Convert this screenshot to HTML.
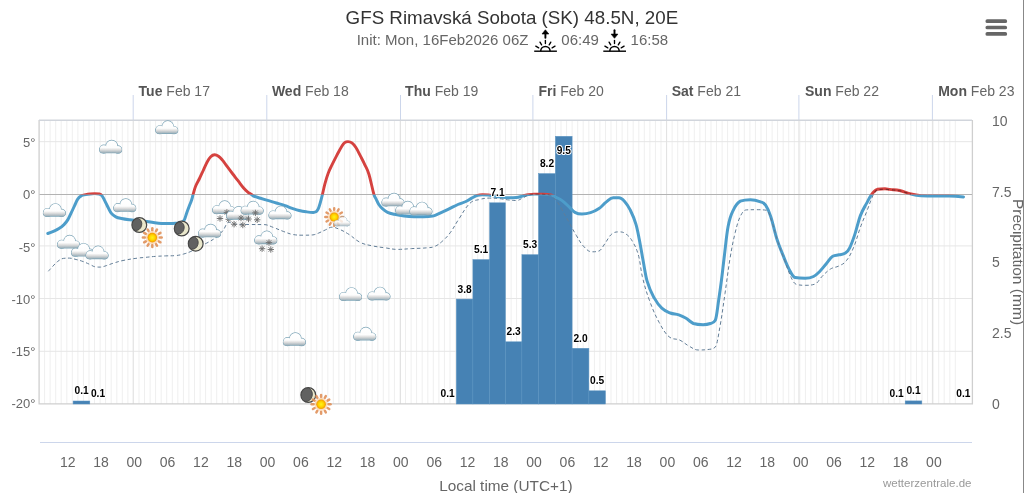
<!DOCTYPE html><html><head><meta charset="utf-8"><style>html,body{margin:0;padding:0;background:#fff;overflow:hidden}svg{display:block;will-change:transform}text{font-family:"Liberation Sans",sans-serif}</style></head><body>
<svg width="1024" height="493" viewBox="0 0 1024 493">
<defs>
<linearGradient id="cg" x1="0" y1="0" x2="0" y2="12.6" gradientUnits="userSpaceOnUse">
<stop offset="0" stop-color="#fff"/><stop offset="0.6" stop-color="#fdfdfd"/><stop offset="0.78" stop-color="#dcdcdc"/><stop offset="1" stop-color="#9fb1ba"/></linearGradient>
<radialGradient id="sg" cx="0.5" cy="0.5" r="0.5"><stop offset="0" stop-color="#fff41a"/><stop offset="0.55" stop-color="#ffd400"/><stop offset="1" stop-color="#f39800"/></radialGradient>
<g id="cloud">
 <g fill="none" stroke="#7fa6b8" stroke-width="1.3">
  <circle cx="4.7" cy="9.0" r="3.9"/><circle cx="12.6" cy="5.9" r="5.6"/><circle cx="18.8" cy="9.4" r="3.5"/><rect x="0.7" y="7" width="21.7" height="5.6" rx="3.1"/>
 </g>
 <g fill="url(#cg)">
  <circle cx="4.7" cy="9.0" r="3.9"/><circle cx="12.6" cy="5.9" r="5.6"/><circle cx="18.8" cy="9.4" r="3.5"/><rect x="0.7" y="7" width="21.7" height="5.6" rx="3.1"/>
 </g>
</g>
<g id="flake" stroke="#707070" stroke-width="0.95" stroke-linecap="round">
 <line x1="-2.8" y1="0" x2="2.8" y2="0"/><line x1="0" y1="-2.8" x2="0" y2="2.8"/><line x1="-2" y1="-2" x2="2" y2="2"/><line x1="-2" y1="2" x2="2" y2="-2"/>
</g>
<clipPath id="mc"><circle cx="0" cy="0" r="7.4"/></clipPath>
<g id="moon">
 <circle cx="0" cy="0" r="7.4" fill="#e9e7cb" stroke="#464646" stroke-width="1.2"/>
 <g clip-path="url(#mc)"><ellipse cx="-2.4" cy="-0.5" rx="4.8" ry="6.1" fill="#616161" stroke="#434343" stroke-width="0.8" transform="rotate(15 -2.4 -0.5)"/></g>
</g>
<g id="moon2">
 <circle cx="0" cy="0" r="7.4" fill="#e9e7cb" stroke="#464646" stroke-width="1.2"/>
 <g clip-path="url(#mc)"><ellipse cx="-1.6" cy="-0.3" rx="5.6" ry="6.9" fill="#616161" stroke="#434343" stroke-width="0.8" transform="rotate(12 -1.6 -0.3)"/></g>
</g>
<g id="sun">
 <g stroke="#e0915a" stroke-width="2.5" stroke-linecap="round" opacity="0.9"><line x1="7.40" y1="0.00" x2="9.40" y2="0.00"/><line x1="6.41" y1="3.70" x2="8.14" y2="4.70"/><line x1="3.70" y1="6.41" x2="4.70" y2="8.14"/><line x1="0.00" y1="7.40" x2="0.00" y2="9.40"/><line x1="-3.70" y1="6.41" x2="-4.70" y2="8.14"/><line x1="-6.41" y1="3.70" x2="-8.14" y2="4.70"/><line x1="-7.40" y1="0.00" x2="-9.40" y2="0.00"/><line x1="-6.41" y1="-3.70" x2="-8.14" y2="-4.70"/><line x1="-3.70" y1="-6.41" x2="-4.70" y2="-8.14"/><line x1="-0.00" y1="-7.40" x2="-0.00" y2="-9.40"/><line x1="3.70" y1="-6.41" x2="4.70" y2="-8.14"/><line x1="6.41" y1="-3.70" x2="8.14" y2="-4.70"/></g>
 <circle cx="0" cy="0" r="6.5" fill="#fbd0a4" opacity="0.75"/><circle cx="0" cy="0" r="4.8" fill="url(#sg)"/>
</g>
<clipPath id="plotclip"><rect x="39" y="120" width="933" height="284"/></clipPath>
<clipPath id="redclip"><rect x="0" y="0" width="1024" height="194.5"/></clipPath><clipPath id="blueclip"><rect x="0" y="194.5" width="1024" height="300"/></clipPath>
</defs>
<path d="M44.6,120 V404 M50.1,120 V404 M55.7,120 V404 M61.2,120 V404 M66.8,120 V404 M72.3,120 V404 M77.9,120 V404 M83.4,120 V404 M89.0,120 V404 M94.5,120 V404 M100.1,120 V404 M105.6,120 V404 M111.2,120 V404 M116.8,120 V404 M122.3,120 V404 M127.9,120 V404 M133.4,120 V404 M139.0,120 V404 M144.5,120 V404 M150.1,120 V404 M155.6,120 V404 M161.2,120 V404 M166.7,120 V404 M172.3,120 V404 M177.8,120 V404 M183.4,120 V404 M188.9,120 V404 M194.5,120 V404 M200.1,120 V404 M205.6,120 V404 M211.2,120 V404 M216.7,120 V404 M222.3,120 V404 M227.8,120 V404 M233.4,120 V404 M238.9,120 V404 M244.5,120 V404 M250.0,120 V404 M255.6,120 V404 M261.1,120 V404 M266.7,120 V404 M272.2,120 V404 M277.8,120 V404 M283.4,120 V404 M288.9,120 V404 M294.5,120 V404 M300.0,120 V404 M305.6,120 V404 M311.1,120 V404 M316.7,120 V404 M322.2,120 V404 M327.8,120 V404 M333.3,120 V404 M338.9,120 V404 M344.4,120 V404 M350.0,120 V404 M355.6,120 V404 M361.1,120 V404 M366.7,120 V404 M372.2,120 V404 M377.8,120 V404 M383.3,120 V404 M388.9,120 V404 M394.4,120 V404 M400.0,120 V404 M405.5,120 V404 M411.1,120 V404 M416.6,120 V404 M422.2,120 V404 M427.8,120 V404 M433.3,120 V404 M438.9,120 V404 M444.4,120 V404 M450.0,120 V404 M455.5,120 V404 M461.1,120 V404 M466.6,120 V404 M472.2,120 V404 M477.7,120 V404 M483.3,120 V404 M488.8,120 V404 M494.4,120 V404 M499.9,120 V404 M505.5,120 V404 M511.1,120 V404 M516.6,120 V404 M522.2,120 V404 M527.7,120 V404 M533.3,120 V404 M538.8,120 V404 M544.4,120 V404 M549.9,120 V404 M555.5,120 V404 M561.0,120 V404 M566.6,120 V404 M572.1,120 V404 M577.7,120 V404 M583.2,120 V404 M588.8,120 V404 M594.4,120 V404 M599.9,120 V404 M605.5,120 V404 M611.0,120 V404 M616.6,120 V404 M622.1,120 V404 M627.7,120 V404 M633.2,120 V404 M638.8,120 V404 M644.3,120 V404 M649.9,120 V404 M655.4,120 V404 M661.0,120 V404 M666.6,120 V404 M672.1,120 V404 M677.7,120 V404 M683.2,120 V404 M688.8,120 V404 M694.3,120 V404 M699.9,120 V404 M705.4,120 V404 M711.0,120 V404 M716.5,120 V404 M722.1,120 V404 M727.6,120 V404 M733.2,120 V404 M738.8,120 V404 M744.3,120 V404 M749.9,120 V404 M755.4,120 V404 M761.0,120 V404 M766.5,120 V404 M772.1,120 V404 M777.6,120 V404 M783.2,120 V404 M788.7,120 V404 M794.3,120 V404 M799.8,120 V404 M805.4,120 V404 M810.9,120 V404 M816.5,120 V404 M822.1,120 V404 M827.6,120 V404 M833.2,120 V404 M838.7,120 V404 M844.3,120 V404 M849.8,120 V404 M855.4,120 V404 M860.9,120 V404 M866.5,120 V404 M872.0,120 V404 M877.6,120 V404 M883.1,120 V404 M888.7,120 V404 M894.2,120 V404 M899.8,120 V404 M905.4,120 V404 M910.9,120 V404 M916.5,120 V404 M922.0,120 V404 M927.6,120 V404 M933.1,120 V404 M938.7,120 V404 M944.2,120 V404 M949.8,120 V404 M955.3,120 V404" stroke="#efefef" stroke-width="1" fill="none"/>
<path d="M39,141.7 H972 M39,245.9 H972 M39,298.5 H972 M39,351.3 H972" stroke="#e6e6e6" stroke-width="1" fill="none"/>
<path d="M133.2,95 V120 M266.8,95 V120 M400.5,95 V120 M532.9,95 V120 M666.6,95 V120 M798.9,95 V120 M932.4,95 V120" stroke="#ccd6eb" stroke-width="1" fill="none"/>
<path d="M133.2,120 V404 M266.8,120 V404 M400.5,120 V404 M532.9,120 V404 M666.6,120 V404 M798.9,120 V404 M932.4,120 V404" stroke="#e2e2e2" stroke-width="1" fill="none"/>
<path d="M39.1,120 V403.9 H972.4 V120" stroke="#cfcfcf" stroke-width="1.3" fill="none"/>
<path d="M39,120.3 H972" stroke="#d1d5dc" stroke-width="1.4" fill="none"/>
<path d="M39.5,194.5 H972" stroke="#b3b3b3" stroke-width="1" fill="none"/>
<g fill="#4682b4" stroke="#5a93c2" stroke-width="0.5"><rect x="73.1" y="401.0" width="16.7" height="3.0"/><rect x="456.3" y="299.1" width="16.6" height="104.9"/><rect x="472.9" y="259.6" width="16.7" height="144.4"/><rect x="489.6" y="202.8" width="15.8" height="201.2"/><rect x="505.4" y="341.8" width="16.5" height="62.2"/><rect x="521.9" y="254.7" width="16.6" height="149.3"/><rect x="538.5" y="173.6" width="16.9" height="230.4"/><rect x="555.4" y="136.3" width="16.7" height="267.7"/><rect x="572.1" y="348.3" width="16.8" height="55.7"/><rect x="588.9" y="390.8" width="16.5" height="13.2"/><rect x="905.2" y="400.9" width="16.6" height="3.1"/></g>
<path d="M47.80,233.50 C47.80,233.50 51.16,232.30 53.40,231.30 C55.64,230.30 56.76,229.92 59.00,228.50 C61.00,227.24 62.00,226.60 64.00,224.60 C65.56,223.04 66.34,222.14 67.90,219.60 C69.22,217.46 69.88,215.66 71.20,212.90 C72.56,210.06 73.24,208.44 74.60,205.60 C75.92,202.84 76.58,200.83 77.90,198.90 C79.26,196.91 79.94,196.55 81.30,195.80 C83.06,194.83 83.94,194.98 85.70,194.60 C87.50,194.22 88.40,194.10 90.20,193.90 C91.96,193.70 92.84,193.60 94.60,193.60 C96.40,193.60 97.30,193.60 99.10,193.90 C100.22,194.20 100.78,194.26 101.90,195.60 C103.02,196.94 103.58,198.45 104.70,200.60 C106.02,203.13 106.68,204.78 108.00,207.30 C109.36,209.90 110.04,211.74 111.40,213.40 C113.16,215.54 114.04,215.90 115.80,216.80 C118.04,217.94 119.16,218.03 121.40,218.50 C124.84,219.23 126.56,219.40 130.00,219.80 C136.76,220.60 140.14,220.69 146.90,221.50 C149.50,221.81 150.80,222.26 153.40,222.60 C156.64,223.02 158.26,223.30 161.50,223.40 C164.74,223.50 166.36,223.50 169.60,223.50 C171.88,223.50 173.02,223.50 175.30,223.30 C177.90,223.10 179.20,223.28 181.80,222.30 C182.80,221.92 183.30,221.80 184.30,219.90 C185.26,218.08 185.74,215.68 186.70,213.00 C187.66,210.32 188.14,209.05 189.10,206.50 C190.10,203.85 190.60,203.02 191.60,200.00 C192.24,198.06 192.56,196.29 193.20,194.10 C194.16,190.81 194.64,188.68 195.60,186.30 C197.16,182.44 197.94,181.74 199.50,178.50 C201.06,175.26 201.84,173.46 203.40,170.10 C204.96,166.74 205.74,164.56 207.30,161.70 C208.66,159.20 209.34,157.99 210.70,156.70 C212.26,155.23 213.04,154.80 214.60,154.80 C216.16,154.80 216.94,155.14 218.50,156.20 C220.06,157.26 220.84,158.24 222.40,160.10 C224.20,162.24 225.10,163.79 226.90,166.20 C229.10,169.15 230.20,170.63 232.40,173.50 C234.64,176.43 235.76,177.80 238.00,180.70 C240.24,183.60 241.36,185.41 243.60,188.00 C245.40,190.09 246.30,190.92 248.10,192.40 C249.42,193.48 250.08,193.52 251.40,194.40 C252.24,194.96 252.66,195.65 253.50,196.00 C256.30,197.17 257.70,197.33 260.50,198.20 C263.34,199.09 264.76,199.54 267.60,200.40 C271.12,201.46 272.88,201.93 276.40,203.00 C279.88,204.05 281.62,204.53 285.10,205.70 C287.94,206.65 289.36,207.33 292.20,208.30 C295.00,209.25 296.40,209.80 299.20,210.50 C302.00,211.20 303.40,211.42 306.20,211.80 C309.04,212.18 310.46,212.40 313.30,212.40 C314.34,212.40 314.86,212.40 315.90,211.80 C316.78,211.20 317.22,211.04 318.10,209.20 C318.98,207.36 319.42,205.58 320.30,202.60 C321.10,199.90 321.50,198.27 322.30,195.00 C323.34,190.75 323.86,187.64 324.90,183.80 C326.22,178.92 326.88,176.70 328.20,173.20 C329.76,169.06 330.54,167.93 332.10,164.70 C333.98,160.81 334.92,159.00 336.80,155.40 C338.64,151.88 339.56,149.88 341.40,146.90 C342.72,144.76 343.38,143.60 344.70,142.60 C346.02,141.60 346.68,141.60 348.00,141.60 C349.56,141.60 350.34,141.73 351.90,142.90 C353.50,144.09 354.30,145.04 355.90,147.50 C357.74,150.32 358.66,152.54 360.50,156.10 C362.34,159.66 363.26,161.32 365.10,165.30 C366.66,168.68 367.44,169.36 369.00,174.50 C370.96,180.96 371.94,187.43 373.90,194.30 C374.70,197.11 375.10,197.03 375.90,198.70 C377.06,201.11 377.64,202.76 378.80,204.50 C380.36,206.84 381.14,207.52 382.70,208.90 C384.66,210.64 385.64,211.40 387.60,212.30 C390.32,213.56 391.68,213.68 394.40,214.30 C398.32,215.20 400.28,215.62 404.20,216.10 C408.08,216.58 410.02,216.70 413.90,216.70 C417.82,216.70 419.78,216.70 423.70,216.70 C427.22,216.70 428.98,216.70 432.50,216.10 C434.86,215.50 436.04,214.81 438.40,213.80 C442.28,212.13 444.22,211.25 448.10,209.40 C452.02,207.53 453.98,206.24 457.90,204.50 C461.10,203.08 462.70,202.98 465.90,201.50 C468.22,200.42 469.38,199.31 471.70,198.10 C474.06,196.87 475.24,196.12 477.60,195.40 C479.56,194.80 480.54,194.80 482.50,194.80 C484.82,194.80 485.98,194.80 488.30,195.00 C490.66,195.20 491.84,195.71 494.20,196.10 C496.92,196.55 498.28,196.78 501.00,197.10 C504.12,197.46 505.68,197.80 508.80,197.80 C511.92,197.80 513.48,197.80 516.60,197.60 C518.96,197.40 520.14,196.70 522.50,196.10 C524.86,195.50 526.04,195.00 528.40,194.60 C530.72,194.20 531.88,194.10 534.20,194.10 C537.72,194.10 539.48,194.10 543.00,194.10 C546.12,194.10 547.68,194.16 550.80,194.90 C552.76,195.36 553.74,196.11 555.70,197.10 C558.26,198.39 559.54,198.72 562.10,200.60 C564.94,202.68 566.36,204.38 569.20,207.00 C571.48,209.10 572.62,211.14 574.90,212.40 C577.74,213.98 579.16,214.10 582.00,214.10 C585.40,214.10 587.10,213.82 590.50,212.70 C593.90,211.58 595.60,210.81 599.00,208.50 C601.84,206.57 603.26,204.24 606.10,202.10 C608.94,199.96 610.36,197.80 613.20,197.80 C615.48,197.80 616.62,197.80 618.90,197.80 C621.18,197.80 622.32,198.96 624.60,201.40 C626.84,203.80 627.96,205.40 630.20,209.90 C632.48,214.48 633.62,216.64 635.90,224.10 C637.30,228.68 638.00,232.92 639.40,240.00 C640.84,247.28 641.56,252.36 643.00,260.00 C644.68,268.92 645.52,275.79 647.20,281.40 C650.12,291.15 651.58,293.06 654.50,298.40 C657.42,303.74 658.88,305.40 661.80,308.10 C665.20,311.24 666.90,311.64 670.30,313.00 C673.70,314.36 675.40,313.76 678.80,314.90 C681.72,315.88 683.18,316.58 686.10,318.30 C689.02,320.02 690.48,322.30 693.40,323.50 C697.28,324.70 699.22,324.70 703.10,324.70 C706.02,324.70 707.48,324.55 710.40,323.50 C712.36,322.79 713.34,323.50 715.30,320.30 C716.74,317.10 717.46,307.76 718.90,298.40 C719.94,291.64 720.46,288.08 721.50,280.00 C722.54,271.92 723.06,266.43 724.10,258.00 C725.70,245.03 726.50,234.89 728.10,226.50 C730.14,215.81 731.16,214.53 733.20,210.30 C736.04,204.41 737.46,202.70 740.30,201.20 C744.34,199.70 746.36,199.70 750.40,199.70 C754.48,199.70 756.52,200.32 760.60,201.80 C762.60,202.52 763.60,202.31 765.60,205.20 C767.64,208.15 768.66,210.30 770.70,216.40 C773.14,223.70 774.36,231.00 776.80,238.70 C779.24,246.40 780.46,248.82 782.90,254.90 C785.34,260.98 786.56,264.56 789.00,269.10 C791.44,273.64 792.66,277.00 795.10,277.60 C799.14,278.20 801.16,278.20 805.20,278.20 C808.52,278.20 810.18,278.08 813.50,276.50 C816.06,275.28 817.34,273.76 819.90,271.20 C822.46,268.64 823.74,266.68 826.30,263.70 C828.86,260.72 830.14,257.80 832.70,256.30 C835.22,254.80 836.48,255.43 839.00,254.80 C841.56,254.15 842.84,254.77 845.40,253.10 C847.12,251.97 847.98,251.24 849.70,247.80 C851.82,243.56 852.88,240.28 855.00,233.90 C857.12,227.52 858.18,221.48 860.30,215.90 C862.86,209.16 864.14,207.91 866.70,203.10 C868.82,199.11 869.88,196.66 872.00,193.90 C874.12,191.14 875.18,189.80 877.30,189.30 C880.38,188.80 881.92,188.80 885.00,188.80 C886.88,188.80 887.82,189.18 889.70,189.40 C893.70,189.86 895.70,189.64 899.70,190.50 C904.22,191.48 906.48,192.90 911.00,194.00 C915.00,194.98 917.00,195.40 921.00,195.70 C926.68,196.00 929.52,196.00 935.20,196.00 C940.84,196.00 943.66,196.00 949.30,196.00 C954.98,196.00 963.50,196.90 963.50,196.90" fill="none" stroke="#4d9dca" stroke-width="3" stroke-linejoin="round" stroke-linecap="round" clip-path="url(#blueclip)"/>
<path d="M47.80,233.50 C47.80,233.50 51.16,232.30 53.40,231.30 C55.64,230.30 56.76,229.92 59.00,228.50 C61.00,227.24 62.00,226.60 64.00,224.60 C65.56,223.04 66.34,222.14 67.90,219.60 C69.22,217.46 69.88,215.66 71.20,212.90 C72.56,210.06 73.24,208.44 74.60,205.60 C75.92,202.84 76.58,200.83 77.90,198.90 C79.26,196.91 79.94,196.55 81.30,195.80 C83.06,194.83 83.94,194.98 85.70,194.60 C87.50,194.22 88.40,194.10 90.20,193.90 C91.96,193.70 92.84,193.60 94.60,193.60 C96.40,193.60 97.30,193.60 99.10,193.90 C100.22,194.20 100.78,194.26 101.90,195.60 C103.02,196.94 103.58,198.45 104.70,200.60 C106.02,203.13 106.68,204.78 108.00,207.30 C109.36,209.90 110.04,211.74 111.40,213.40 C113.16,215.54 114.04,215.90 115.80,216.80 C118.04,217.94 119.16,218.03 121.40,218.50 C124.84,219.23 126.56,219.40 130.00,219.80 C136.76,220.60 140.14,220.69 146.90,221.50 C149.50,221.81 150.80,222.26 153.40,222.60 C156.64,223.02 158.26,223.30 161.50,223.40 C164.74,223.50 166.36,223.50 169.60,223.50 C171.88,223.50 173.02,223.50 175.30,223.30 C177.90,223.10 179.20,223.28 181.80,222.30 C182.80,221.92 183.30,221.80 184.30,219.90 C185.26,218.08 185.74,215.68 186.70,213.00 C187.66,210.32 188.14,209.05 189.10,206.50 C190.10,203.85 190.60,203.02 191.60,200.00 C192.24,198.06 192.56,196.29 193.20,194.10 C194.16,190.81 194.64,188.68 195.60,186.30 C197.16,182.44 197.94,181.74 199.50,178.50 C201.06,175.26 201.84,173.46 203.40,170.10 C204.96,166.74 205.74,164.56 207.30,161.70 C208.66,159.20 209.34,157.99 210.70,156.70 C212.26,155.23 213.04,154.80 214.60,154.80 C216.16,154.80 216.94,155.14 218.50,156.20 C220.06,157.26 220.84,158.24 222.40,160.10 C224.20,162.24 225.10,163.79 226.90,166.20 C229.10,169.15 230.20,170.63 232.40,173.50 C234.64,176.43 235.76,177.80 238.00,180.70 C240.24,183.60 241.36,185.41 243.60,188.00 C245.40,190.09 246.30,190.92 248.10,192.40 C249.42,193.48 250.08,193.52 251.40,194.40 C252.24,194.96 252.66,195.65 253.50,196.00 C256.30,197.17 257.70,197.33 260.50,198.20 C263.34,199.09 264.76,199.54 267.60,200.40 C271.12,201.46 272.88,201.93 276.40,203.00 C279.88,204.05 281.62,204.53 285.10,205.70 C287.94,206.65 289.36,207.33 292.20,208.30 C295.00,209.25 296.40,209.80 299.20,210.50 C302.00,211.20 303.40,211.42 306.20,211.80 C309.04,212.18 310.46,212.40 313.30,212.40 C314.34,212.40 314.86,212.40 315.90,211.80 C316.78,211.20 317.22,211.04 318.10,209.20 C318.98,207.36 319.42,205.58 320.30,202.60 C321.10,199.90 321.50,198.27 322.30,195.00 C323.34,190.75 323.86,187.64 324.90,183.80 C326.22,178.92 326.88,176.70 328.20,173.20 C329.76,169.06 330.54,167.93 332.10,164.70 C333.98,160.81 334.92,159.00 336.80,155.40 C338.64,151.88 339.56,149.88 341.40,146.90 C342.72,144.76 343.38,143.60 344.70,142.60 C346.02,141.60 346.68,141.60 348.00,141.60 C349.56,141.60 350.34,141.73 351.90,142.90 C353.50,144.09 354.30,145.04 355.90,147.50 C357.74,150.32 358.66,152.54 360.50,156.10 C362.34,159.66 363.26,161.32 365.10,165.30 C366.66,168.68 367.44,169.36 369.00,174.50 C370.96,180.96 371.94,187.43 373.90,194.30 C374.70,197.11 375.10,197.03 375.90,198.70 C377.06,201.11 377.64,202.76 378.80,204.50 C380.36,206.84 381.14,207.52 382.70,208.90 C384.66,210.64 385.64,211.40 387.60,212.30 C390.32,213.56 391.68,213.68 394.40,214.30 C398.32,215.20 400.28,215.62 404.20,216.10 C408.08,216.58 410.02,216.70 413.90,216.70 C417.82,216.70 419.78,216.70 423.70,216.70 C427.22,216.70 428.98,216.70 432.50,216.10 C434.86,215.50 436.04,214.81 438.40,213.80 C442.28,212.13 444.22,211.25 448.10,209.40 C452.02,207.53 453.98,206.24 457.90,204.50 C461.10,203.08 462.70,202.98 465.90,201.50 C468.22,200.42 469.38,199.31 471.70,198.10 C474.06,196.87 475.24,196.12 477.60,195.40 C479.56,194.80 480.54,194.80 482.50,194.80 C484.82,194.80 485.98,194.80 488.30,195.00 C490.66,195.20 491.84,195.71 494.20,196.10 C496.92,196.55 498.28,196.78 501.00,197.10 C504.12,197.46 505.68,197.80 508.80,197.80 C511.92,197.80 513.48,197.80 516.60,197.60 C518.96,197.40 520.14,196.70 522.50,196.10 C524.86,195.50 526.04,195.00 528.40,194.60 C530.72,194.20 531.88,194.10 534.20,194.10 C537.72,194.10 539.48,194.10 543.00,194.10 C546.12,194.10 547.68,194.16 550.80,194.90 C552.76,195.36 553.74,196.11 555.70,197.10 C558.26,198.39 559.54,198.72 562.10,200.60 C564.94,202.68 566.36,204.38 569.20,207.00 C571.48,209.10 572.62,211.14 574.90,212.40 C577.74,213.98 579.16,214.10 582.00,214.10 C585.40,214.10 587.10,213.82 590.50,212.70 C593.90,211.58 595.60,210.81 599.00,208.50 C601.84,206.57 603.26,204.24 606.10,202.10 C608.94,199.96 610.36,197.80 613.20,197.80 C615.48,197.80 616.62,197.80 618.90,197.80 C621.18,197.80 622.32,198.96 624.60,201.40 C626.84,203.80 627.96,205.40 630.20,209.90 C632.48,214.48 633.62,216.64 635.90,224.10 C637.30,228.68 638.00,232.92 639.40,240.00 C640.84,247.28 641.56,252.36 643.00,260.00 C644.68,268.92 645.52,275.79 647.20,281.40 C650.12,291.15 651.58,293.06 654.50,298.40 C657.42,303.74 658.88,305.40 661.80,308.10 C665.20,311.24 666.90,311.64 670.30,313.00 C673.70,314.36 675.40,313.76 678.80,314.90 C681.72,315.88 683.18,316.58 686.10,318.30 C689.02,320.02 690.48,322.30 693.40,323.50 C697.28,324.70 699.22,324.70 703.10,324.70 C706.02,324.70 707.48,324.55 710.40,323.50 C712.36,322.79 713.34,323.50 715.30,320.30 C716.74,317.10 717.46,307.76 718.90,298.40 C719.94,291.64 720.46,288.08 721.50,280.00 C722.54,271.92 723.06,266.43 724.10,258.00 C725.70,245.03 726.50,234.89 728.10,226.50 C730.14,215.81 731.16,214.53 733.20,210.30 C736.04,204.41 737.46,202.70 740.30,201.20 C744.34,199.70 746.36,199.70 750.40,199.70 C754.48,199.70 756.52,200.32 760.60,201.80 C762.60,202.52 763.60,202.31 765.60,205.20 C767.64,208.15 768.66,210.30 770.70,216.40 C773.14,223.70 774.36,231.00 776.80,238.70 C779.24,246.40 780.46,248.82 782.90,254.90 C785.34,260.98 786.56,264.56 789.00,269.10 C791.44,273.64 792.66,277.00 795.10,277.60 C799.14,278.20 801.16,278.20 805.20,278.20 C808.52,278.20 810.18,278.08 813.50,276.50 C816.06,275.28 817.34,273.76 819.90,271.20 C822.46,268.64 823.74,266.68 826.30,263.70 C828.86,260.72 830.14,257.80 832.70,256.30 C835.22,254.80 836.48,255.43 839.00,254.80 C841.56,254.15 842.84,254.77 845.40,253.10 C847.12,251.97 847.98,251.24 849.70,247.80 C851.82,243.56 852.88,240.28 855.00,233.90 C857.12,227.52 858.18,221.48 860.30,215.90 C862.86,209.16 864.14,207.91 866.70,203.10 C868.82,199.11 869.88,196.66 872.00,193.90 C874.12,191.14 875.18,189.80 877.30,189.30 C880.38,188.80 881.92,188.80 885.00,188.80 C886.88,188.80 887.82,189.18 889.70,189.40 C893.70,189.86 895.70,189.64 899.70,190.50 C904.22,191.48 906.48,192.90 911.00,194.00 C915.00,194.98 917.00,195.40 921.00,195.70 C926.68,196.00 929.52,196.00 935.20,196.00 C940.84,196.00 943.66,196.00 949.30,196.00 C954.98,196.00 963.50,196.90 963.50,196.90" fill="none" stroke="#d5423f" stroke-width="2.9" stroke-linejoin="round" clip-path="url(#redclip)"/>
<path d="M48.30,271.30 C48.30,271.30 50.94,268.25 52.70,266.40 C54.66,264.33 55.64,262.97 57.60,261.50 C59.92,259.77 61.08,258.70 63.40,258.40 C65.76,258.10 66.94,258.10 69.30,258.10 C72.02,258.10 73.38,258.82 76.10,259.50 C78.86,260.18 80.24,260.51 83.00,261.50 C85.72,262.47 87.08,263.24 89.80,264.40 C92.16,265.40 93.34,266.70 95.70,266.90 C97.62,267.10 98.58,267.10 100.50,267.10 C102.86,267.10 104.04,266.32 106.40,265.60 C109.12,264.76 110.48,264.04 113.20,263.20 C117.12,262.00 119.08,261.32 123.00,260.50 C128.88,259.28 131.82,258.92 137.70,258.10 C140.66,257.68 142.14,257.69 145.10,257.40 C149.18,257.01 151.22,256.70 155.30,256.40 C159.34,256.10 161.36,256.06 165.40,255.90 C169.48,255.74 171.52,255.90 175.60,255.60 C178.84,255.30 180.46,254.92 183.70,254.00 C186.94,253.08 188.56,252.52 191.80,251.00 C195.04,249.48 196.66,248.12 199.90,246.40 C203.14,244.68 204.76,244.22 208.00,242.40 C211.24,240.58 212.86,239.90 216.10,237.30 C218.94,235.02 220.36,233.64 223.20,230.20 C225.32,227.64 226.38,222.30 228.50,222.30 C231.02,222.30 232.28,223.90 234.80,224.20 C240.64,224.50 243.56,224.42 249.40,224.50 C255.28,224.58 258.22,224.50 264.10,224.60 C267.98,224.70 269.92,226.23 273.80,227.60 C277.72,228.99 279.68,230.10 283.60,231.50 C287.52,232.90 289.48,234.00 293.40,234.60 C297.28,235.20 299.22,235.20 303.10,235.20 C307.02,235.20 308.98,235.20 312.90,234.90 C315.26,234.60 316.44,233.95 318.80,233.00 C321.52,231.91 322.88,231.00 325.60,229.80 C328.12,228.68 329.38,227.20 331.90,227.20 C335.02,227.20 336.58,228.08 339.70,229.40 C343.46,231.00 345.34,232.11 349.10,234.50 C353.46,237.27 355.64,240.18 360.00,242.30 C365.00,244.74 367.50,244.80 372.50,245.90 C377.50,247.00 380.00,247.10 385.00,247.80 C390.00,248.50 392.50,249.40 397.50,249.40 C403.14,249.40 405.96,248.90 411.60,248.60 C417.84,248.26 420.96,248.41 427.20,247.80 C430.32,247.49 431.88,247.70 435.00,246.30 C438.12,244.90 439.68,243.62 442.80,240.80 C445.92,237.98 447.48,236.42 450.60,232.20 C453.72,227.98 455.28,224.38 458.40,219.70 C462.96,212.86 465.24,207.77 469.80,203.40 C473.68,199.69 475.62,200.55 479.50,199.50 C483.42,198.43 485.38,198.10 489.30,198.10 C493.22,198.10 495.18,198.22 499.10,198.60 C502.98,198.98 504.92,199.58 508.80,200.00 C511.92,200.34 513.48,200.50 516.60,200.50 C518.96,200.50 520.14,199.18 522.50,198.10 C524.86,197.02 526.04,196.00 528.40,195.10 C532.28,194.20 534.22,194.20 538.10,194.20 C543.18,194.20 545.72,194.20 550.80,195.60 C553.56,197.00 554.94,199.01 557.70,202.50 C559.46,204.73 560.34,206.81 562.10,209.90 C564.94,214.89 566.36,217.60 569.20,222.70 C572.04,227.80 573.46,230.72 576.30,235.40 C579.14,240.08 580.56,243.11 583.40,246.10 C586.80,249.67 588.50,251.80 591.90,251.80 C594.74,251.80 596.16,251.80 599.00,251.00 C601.28,250.20 602.42,246.93 604.70,243.90 C607.54,240.13 608.96,236.10 611.80,234.00 C614.64,231.90 616.06,231.90 618.90,231.90 C621.74,231.90 623.16,231.90 626.00,234.00 C628.84,236.10 630.26,237.46 633.10,242.50 C635.38,246.54 636.52,248.27 638.80,256.70 C640.20,261.87 640.90,270.78 642.30,276.50 C645.22,288.42 646.68,292.86 649.60,300.80 C653.48,311.34 655.42,315.54 659.30,322.70 C663.22,329.94 665.18,333.40 669.10,336.80 C673.46,340.20 675.64,338.18 680.00,340.20 C683.40,341.78 685.10,343.98 688.50,345.80 C692.42,347.90 694.38,350.00 698.30,350.00 C702.18,350.00 704.12,350.00 708.00,349.50 C710.92,349.00 712.38,349.50 715.30,347.10 C717.26,344.70 718.24,336.03 720.20,325.20 C722.12,314.59 723.08,306.53 725.00,293.50 C727.04,279.65 728.06,270.18 730.10,258.00 C732.14,245.82 733.16,240.92 735.20,232.60 C737.24,224.28 738.26,220.53 740.30,216.40 C742.74,211.45 743.96,210.10 746.40,209.90 C750.44,209.70 752.46,209.70 756.50,209.70 C760.58,209.70 762.62,209.70 766.70,210.30 C769.10,210.90 770.30,217.66 772.70,224.50 C775.14,231.46 776.36,237.50 778.80,244.80 C781.24,252.10 782.46,254.52 784.90,261.00 C787.34,267.48 788.56,272.12 791.00,277.20 C793.04,281.44 794.06,283.30 796.10,284.30 C799.74,285.30 801.56,285.30 805.20,285.30 C809.36,285.30 811.44,285.30 815.60,283.90 C818.16,282.50 819.44,279.06 822.00,276.50 C825.40,273.10 827.10,271.12 830.50,269.00 C833.90,266.88 835.60,267.71 839.00,265.90 C842.00,264.31 843.50,264.37 846.50,260.50 C849.46,256.69 850.94,253.76 853.90,246.70 C856.46,240.60 857.74,234.62 860.30,227.60 C862.86,220.58 864.14,218.08 866.70,211.60 C869.26,205.12 870.54,200.46 873.10,195.20 C874.78,191.74 875.62,190.40 877.30,189.80 C880.38,189.20 881.92,189.20 885.00,189.20 C886.88,189.20 887.82,189.50 889.70,189.70 C893.70,190.14 895.70,189.94 899.70,190.80 C904.22,191.78 911.00,194.30 911.00,194.30" fill="none" stroke="#627d96" stroke-width="1" stroke-dasharray="3.6,2.6" clip-path="url(#blueclip)"/>
<path d="M48.30,271.30 C48.30,271.30 50.94,268.25 52.70,266.40 C54.66,264.33 55.64,262.97 57.60,261.50 C59.92,259.77 61.08,258.70 63.40,258.40 C65.76,258.10 66.94,258.10 69.30,258.10 C72.02,258.10 73.38,258.82 76.10,259.50 C78.86,260.18 80.24,260.51 83.00,261.50 C85.72,262.47 87.08,263.24 89.80,264.40 C92.16,265.40 93.34,266.70 95.70,266.90 C97.62,267.10 98.58,267.10 100.50,267.10 C102.86,267.10 104.04,266.32 106.40,265.60 C109.12,264.76 110.48,264.04 113.20,263.20 C117.12,262.00 119.08,261.32 123.00,260.50 C128.88,259.28 131.82,258.92 137.70,258.10 C140.66,257.68 142.14,257.69 145.10,257.40 C149.18,257.01 151.22,256.70 155.30,256.40 C159.34,256.10 161.36,256.06 165.40,255.90 C169.48,255.74 171.52,255.90 175.60,255.60 C178.84,255.30 180.46,254.92 183.70,254.00 C186.94,253.08 188.56,252.52 191.80,251.00 C195.04,249.48 196.66,248.12 199.90,246.40 C203.14,244.68 204.76,244.22 208.00,242.40 C211.24,240.58 212.86,239.90 216.10,237.30 C218.94,235.02 220.36,233.64 223.20,230.20 C225.32,227.64 226.38,222.30 228.50,222.30 C231.02,222.30 232.28,223.90 234.80,224.20 C240.64,224.50 243.56,224.42 249.40,224.50 C255.28,224.58 258.22,224.50 264.10,224.60 C267.98,224.70 269.92,226.23 273.80,227.60 C277.72,228.99 279.68,230.10 283.60,231.50 C287.52,232.90 289.48,234.00 293.40,234.60 C297.28,235.20 299.22,235.20 303.10,235.20 C307.02,235.20 308.98,235.20 312.90,234.90 C315.26,234.60 316.44,233.95 318.80,233.00 C321.52,231.91 322.88,231.00 325.60,229.80 C328.12,228.68 329.38,227.20 331.90,227.20 C335.02,227.20 336.58,228.08 339.70,229.40 C343.46,231.00 345.34,232.11 349.10,234.50 C353.46,237.27 355.64,240.18 360.00,242.30 C365.00,244.74 367.50,244.80 372.50,245.90 C377.50,247.00 380.00,247.10 385.00,247.80 C390.00,248.50 392.50,249.40 397.50,249.40 C403.14,249.40 405.96,248.90 411.60,248.60 C417.84,248.26 420.96,248.41 427.20,247.80 C430.32,247.49 431.88,247.70 435.00,246.30 C438.12,244.90 439.68,243.62 442.80,240.80 C445.92,237.98 447.48,236.42 450.60,232.20 C453.72,227.98 455.28,224.38 458.40,219.70 C462.96,212.86 465.24,207.77 469.80,203.40 C473.68,199.69 475.62,200.55 479.50,199.50 C483.42,198.43 485.38,198.10 489.30,198.10 C493.22,198.10 495.18,198.22 499.10,198.60 C502.98,198.98 504.92,199.58 508.80,200.00 C511.92,200.34 513.48,200.50 516.60,200.50 C518.96,200.50 520.14,199.18 522.50,198.10 C524.86,197.02 526.04,196.00 528.40,195.10 C532.28,194.20 534.22,194.20 538.10,194.20 C543.18,194.20 545.72,194.20 550.80,195.60 C553.56,197.00 554.94,199.01 557.70,202.50 C559.46,204.73 560.34,206.81 562.10,209.90 C564.94,214.89 566.36,217.60 569.20,222.70 C572.04,227.80 573.46,230.72 576.30,235.40 C579.14,240.08 580.56,243.11 583.40,246.10 C586.80,249.67 588.50,251.80 591.90,251.80 C594.74,251.80 596.16,251.80 599.00,251.00 C601.28,250.20 602.42,246.93 604.70,243.90 C607.54,240.13 608.96,236.10 611.80,234.00 C614.64,231.90 616.06,231.90 618.90,231.90 C621.74,231.90 623.16,231.90 626.00,234.00 C628.84,236.10 630.26,237.46 633.10,242.50 C635.38,246.54 636.52,248.27 638.80,256.70 C640.20,261.87 640.90,270.78 642.30,276.50 C645.22,288.42 646.68,292.86 649.60,300.80 C653.48,311.34 655.42,315.54 659.30,322.70 C663.22,329.94 665.18,333.40 669.10,336.80 C673.46,340.20 675.64,338.18 680.00,340.20 C683.40,341.78 685.10,343.98 688.50,345.80 C692.42,347.90 694.38,350.00 698.30,350.00 C702.18,350.00 704.12,350.00 708.00,349.50 C710.92,349.00 712.38,349.50 715.30,347.10 C717.26,344.70 718.24,336.03 720.20,325.20 C722.12,314.59 723.08,306.53 725.00,293.50 C727.04,279.65 728.06,270.18 730.10,258.00 C732.14,245.82 733.16,240.92 735.20,232.60 C737.24,224.28 738.26,220.53 740.30,216.40 C742.74,211.45 743.96,210.10 746.40,209.90 C750.44,209.70 752.46,209.70 756.50,209.70 C760.58,209.70 762.62,209.70 766.70,210.30 C769.10,210.90 770.30,217.66 772.70,224.50 C775.14,231.46 776.36,237.50 778.80,244.80 C781.24,252.10 782.46,254.52 784.90,261.00 C787.34,267.48 788.56,272.12 791.00,277.20 C793.04,281.44 794.06,283.30 796.10,284.30 C799.74,285.30 801.56,285.30 805.20,285.30 C809.36,285.30 811.44,285.30 815.60,283.90 C818.16,282.50 819.44,279.06 822.00,276.50 C825.40,273.10 827.10,271.12 830.50,269.00 C833.90,266.88 835.60,267.71 839.00,265.90 C842.00,264.31 843.50,264.37 846.50,260.50 C849.46,256.69 850.94,253.76 853.90,246.70 C856.46,240.60 857.74,234.62 860.30,227.60 C862.86,220.58 864.14,218.08 866.70,211.60 C869.26,205.12 870.54,200.46 873.10,195.20 C874.78,191.74 875.62,190.40 877.30,189.80 C880.38,189.20 881.92,189.20 885.00,189.20 C886.88,189.20 887.82,189.50 889.70,189.70 C893.70,190.14 895.70,189.94 899.70,190.80 C904.22,191.78 911.00,194.30 911.00,194.30" fill="none" stroke="#7a2626" stroke-width="1.1" stroke-dasharray="3.6,2.6" clip-path="url(#redclip)"/>
<use href="#cloud" transform="translate(42.8,203.5)"/>
<use href="#cloud" transform="translate(57.0,235.2)"/>
<use href="#cloud" transform="translate(71.0,243.3)"/>
<use href="#cloud" transform="translate(85.5,245.9)"/>
<use href="#cloud" transform="translate(99.1,140.1)"/>
<use href="#cloud" transform="translate(113.2,198.6)"/>
<use href="#cloud" transform="translate(155.2,120.7)"/>
<use href="#cloud" transform="translate(198.0,224.1)"/>
<use href="#cloud" transform="translate(268.4,206.0)"/>
<use href="#cloud" transform="translate(282.8,332.6)"/>
<use href="#cloud" transform="translate(339.0,287.5)"/>
<use href="#cloud" transform="translate(367.4,287.0)"/>
<use href="#cloud" transform="translate(353.2,327.2)"/>
<use href="#cloud" transform="translate(381.4,193.1)"/>
<use href="#cloud" transform="translate(395.2,201.2)"/>
<use href="#cloud" transform="translate(409.4,202.0)"/>
<use href="#cloud" transform="translate(212.1,200.7)"/>
<use href="#flake" transform="translate(226.9,212.4)"/>
<use href="#flake" transform="translate(220.0,218.5)"/>
<use href="#flake" transform="translate(228.7,219.3)"/>
<use href="#cloud" transform="translate(226.2,206.4)"/>
<use href="#flake" transform="translate(241.0,218.1)"/>
<use href="#flake" transform="translate(234.1,224.2)"/>
<use href="#flake" transform="translate(242.8,225.0)"/>
<use href="#cloud" transform="translate(240.6,201.2)"/>
<use href="#flake" transform="translate(255.4,212.9)"/>
<use href="#flake" transform="translate(248.5,219.0)"/>
<use href="#flake" transform="translate(257.2,219.8)"/>
<use href="#cloud" transform="translate(254.2,230.9)"/>
<use href="#flake" transform="translate(269.0,242.6)"/>
<use href="#flake" transform="translate(262.1,248.7)"/>
<use href="#flake" transform="translate(270.8,249.5)"/>
<use href="#moon" transform="translate(139.3,225.0)"/>
<use href="#moon" transform="translate(181.7,228.5)"/>
<use href="#moon" transform="translate(195.7,243.7)"/>
<use href="#moon2" transform="translate(308.3,395.0)"/>
<use href="#sun" transform="translate(152.3,237.6)"/>
<use href="#sun" transform="translate(321.1,404.3)"/>
<use href="#sun" transform="translate(334.2,217.0) scale(0.95)"/>
<use href="#cloud" transform="translate(333.7,216.7) scale(0.72)" opacity="0.8"/>
<g font-size="10.2" font-weight="bold" text-anchor="middle" fill="#000" stroke="#fff" stroke-width="2" paint-order="stroke" stroke-linejoin="round"><text x="81.6" y="394.3">0.1</text><text x="98.0" y="396.8">0.1</text><text x="447.6" y="396.8">0.1</text><text x="464.6" y="292.7">3.8</text><text x="481.2" y="253.2">5.1</text><text x="497.5" y="196.4">7.1</text><text x="513.6" y="335.4">2.3</text><text x="530.2" y="248.3">5.3</text><text x="547.0" y="167.2">8.2</text><text x="563.8" y="154.3">9.5</text><text x="580.5" y="341.9">2.0</text><text x="597.1" y="384.4">0.5</text><text x="896.6" y="396.6">0.1</text><text x="913.5" y="393.9">0.1</text><text x="963.4" y="396.6">0.1</text></g>
<g font-size="13" fill="#666" text-anchor="end"><text x="35.5" y="146.9">5°</text><text x="35.5" y="199.2">0°</text><text x="35.5" y="251.5">-5°</text><text x="35.5" y="303.8">-10°</text><text x="35.5" y="356.0">-15°</text><text x="35.5" y="408.3">-20°</text></g>
<g font-size="14" fill="#666"><text x="992" y="126.0">10</text><text x="992" y="196.7">7.5</text><text x="992" y="267.4">5</text><text x="992" y="338.0">2.5</text><text x="992" y="408.7">0</text></g>
<text transform="translate(1013.2,198.9) rotate(90)" font-size="14" fill="#666" textLength="126.2" lengthAdjust="spacingAndGlyphs">Precipitation (mm)</text>
<g font-size="14" fill="#666"><text x="138.6" y="96"><tspan font-weight="bold" fill="#555">Tue</tspan> Feb 17</text><text x="271.9" y="96"><tspan font-weight="bold" fill="#555">Wed</tspan> Feb 18</text><text x="405.1" y="96"><tspan font-weight="bold" fill="#555">Thu</tspan> Feb 19</text><text x="538.4" y="96"><tspan font-weight="bold" fill="#555">Fri</tspan> Feb 20</text><text x="671.7" y="96"><tspan font-weight="bold" fill="#555">Sat</tspan> Feb 21</text><text x="805.0" y="96"><tspan font-weight="bold" fill="#555">Sun</tspan> Feb 22</text><text x="938.2" y="96"><tspan font-weight="bold" fill="#555">Mon</tspan> Feb 23</text></g>
<path d="M40,442.5 H972" stroke="#ccd6eb" stroke-width="1.2" fill="none"/>
<g font-size="14" fill="#666" text-anchor="middle"><text x="67.7" y="466.6">12</text><text x="101.0" y="466.6">18</text><text x="134.3" y="466.6">00</text><text x="167.6" y="466.6">06</text><text x="200.9" y="466.6">12</text><text x="234.3" y="466.6">18</text><text x="267.6" y="466.6">00</text><text x="300.9" y="466.6">06</text><text x="334.2" y="466.6">12</text><text x="367.5" y="466.6">18</text><text x="400.8" y="466.6">00</text><text x="434.2" y="466.6">06</text><text x="467.5" y="466.6">12</text><text x="500.8" y="466.6">18</text><text x="534.1" y="466.6">00</text><text x="567.4" y="466.6">06</text><text x="600.8" y="466.6">12</text><text x="634.1" y="466.6">18</text><text x="667.4" y="466.6">00</text><text x="700.7" y="466.6">06</text><text x="734.0" y="466.6">12</text><text x="767.3" y="466.6">18</text><text x="800.7" y="466.6">00</text><text x="834.0" y="466.6">06</text><text x="867.3" y="466.6">12</text><text x="900.6" y="466.6">18</text><text x="933.9" y="466.6">00</text></g>
<text x="439.2" y="490.6" font-size="14.8" fill="#666" textLength="133.4" lengthAdjust="spacingAndGlyphs">Local time (UTC+1)</text>
<text x="882.9" y="487" font-size="11.3" fill="#999" textLength="88.6" lengthAdjust="spacingAndGlyphs">wetterzentrale.de</text>
<text x="345.6" y="24.4" font-size="18.4" fill="#333" textLength="332.6" lengthAdjust="spacingAndGlyphs">GFS Rimavská Sobota (SK) 48.5N, 20E</text>
<g font-size="15" fill="#666"><text x="356.7" y="45">Init: Mon, 16Feb2026 06Z</text><text x="561.3" y="45">06:49</text><text x="630.6" y="45">16:58</text></g>
<path d="M534.2,51.2 H556.9" stroke="#000" stroke-width="1.4"/><path d="M540.7,51.2 A4.7,4.7 0 0 1 550.1,51.2" fill="none" stroke="#000" stroke-width="1.5"/><line x1="545.40" y1="40.40" x2="545.40" y2="43.60" stroke="#000" stroke-width="1.35" stroke-linecap="round"/><line x1="540.00" y1="42.20" x2="541.60" y2="44.90" stroke="#000" stroke-width="1.35" stroke-linecap="round"/><line x1="550.80" y1="42.20" x2="549.20" y2="44.90" stroke="#000" stroke-width="1.35" stroke-linecap="round"/><line x1="535.80" y1="46.20" x2="538.70" y2="47.80" stroke="#000" stroke-width="1.35" stroke-linecap="round"/><line x1="555.00" y1="46.20" x2="552.10" y2="47.80" stroke="#000" stroke-width="1.35" stroke-linecap="round"/><path d="M545.4,37.8 V33.5" stroke="#000" stroke-width="1.9" stroke-linecap="round"/><path d="M545.4,29.8 L542.0,34 L548.8,34 Z" fill="#000" stroke="#000" stroke-width="0.6" stroke-linejoin="round"/>
<path d="M603.3,51.2 H626.0" stroke="#000" stroke-width="1.4"/><path d="M609.8,51.2 A4.7,4.7 0 0 1 619.2,51.2" fill="none" stroke="#000" stroke-width="1.5"/><line x1="614.50" y1="40.40" x2="614.50" y2="43.60" stroke="#000" stroke-width="1.35" stroke-linecap="round"/><line x1="609.10" y1="42.20" x2="610.70" y2="44.90" stroke="#000" stroke-width="1.35" stroke-linecap="round"/><line x1="619.90" y1="42.20" x2="618.30" y2="44.90" stroke="#000" stroke-width="1.35" stroke-linecap="round"/><line x1="604.90" y1="46.20" x2="607.80" y2="47.80" stroke="#000" stroke-width="1.35" stroke-linecap="round"/><line x1="624.10" y1="46.20" x2="621.20" y2="47.80" stroke="#000" stroke-width="1.35" stroke-linecap="round"/><path d="M614.5,30.3 V34.5" stroke="#000" stroke-width="1.9" stroke-linecap="round"/><path d="M614.5,38.3 L611.1,34.1 L617.9,34.1 Z" fill="#000" stroke="#000" stroke-width="0.6" stroke-linejoin="round"/>
<g stroke="#666" stroke-width="3.7" stroke-linecap="round"><path d="M987.3,21.2 H1005.3 M987.3,27.5 H1005.3 M987.3,33.9 H1005.3"/></g>
<path d="M1023.5,0 V493" stroke="#888" stroke-width="1"/>
</svg></body></html>
